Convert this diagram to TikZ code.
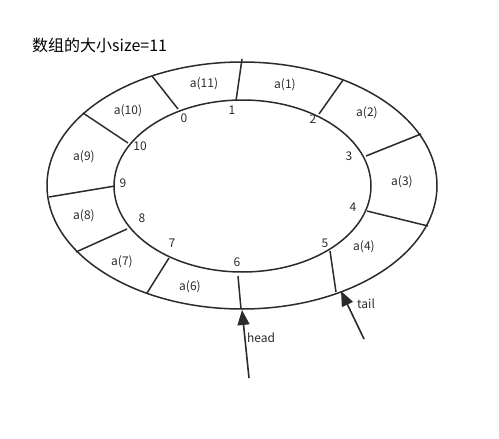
\documentclass[tikz,border=0pt]{standalone}
\usepackage{fontspec}
\setmainfont{Noto Sans CJK SC}
\usetikzlibrary{arrows.meta}
\definecolor{ink}{HTML}{2B2B2B}
\begin{document}
\begin{tikzpicture}[x=1pt,y=-1pt,
  ring/.style={draw=ink,line width=1.5pt},
  divider/.style={draw=ink,line width=1.5pt},
  idx/.style={font=\fontsize{12}{12}\selectfont,text=ink,inner sep=0pt},
  cell/.style={font=\fontsize{12}{12}\selectfont,text=ink,inner sep=0pt},
  pointer/.style={draw=ink,line width=1.6pt,-{Triangle[length=15pt,width=12pt]}},
  lbl/.style={font=\fontsize{12}{12}\selectfont,text=ink,inner sep=0pt,anchor=west}]
\useasboundingbox (0,0) rectangle (499,439);
\node[anchor=west,inner sep=0pt,font=\fontsize{16}{16}\selectfont] (title) at (32,45) {数组的大小size=11};
\draw[ring] (242,185.5) ellipse [x radius=195, y radius=123.5];
\draw[ring] (242.5,186) ellipse [x radius=128.5, y radius=86];
% divider end points
\coordinate (i0) at (178,109); \coordinate (o0) at (152,76);
\coordinate (i1) at (236,101); \coordinate (o1) at (242,59);
\coordinate (i2) at (319,114); \coordinate (o2) at (343,80);
\coordinate (i3) at (366,156); \coordinate (o3) at (421,134);
\coordinate (i4) at (367,211); \coordinate (o4) at (428,226);
\coordinate (i5) at (330,251); \coordinate (o5) at (336,292);
\coordinate (i6) at (238,276); \coordinate (o6) at (241,309);
\coordinate (i7) at (169,258); \coordinate (o7) at (147,293);
\coordinate (i8) at (127,229); \coordinate (o8) at (76,252);
\coordinate (i9) at (115,186); \coordinate (o9) at (49,197);
\coordinate (i10) at (128,143); \coordinate (o10) at (83,113);
\foreach \k in {0,...,10} {\draw[divider] (i\k) -- (o\k);}
% indices
\node[idx] (n0) at (184,118) {0};
\node[idx] (n1) at (232,110) {1};
\node[idx] (n2) at (313,119) {2};
\node[idx] (n3) at (349,156) {3};
\node[idx] (n4) at (353,207) {4};
\node[idx] (n5) at (325,243) {5};
\node[idx] (n6) at (237,262) {6};
\node[idx] (n7) at (172,243) {7};
\node[idx] (n8) at (142,218) {8};
\node[idx] (n9) at (123,183) {9};
\node[idx] (n10) at (140,146) {10};
% cells
\node[cell] (c11) at (204,84) {a(11)};
\node[cell] (c1) at (285,85) {a(1)};
\node[cell] (c2) at (367,113) {a(2)};
\node[cell] (c3) at (402,182) {a(3)};
\node[cell] (c4) at (364,247) {a(4)};
\node[cell] (c6) at (190,287) {a(6)};
\node[cell] (c7) at (122,262) {a(7)};
\node[cell] (c8) at (84,216) {a(8)};
\node[cell] (c9) at (84,157) {a(9)};
\node[cell] (c10) at (128,111) {a(10)};
% pointers
\coordinate (hs) at (249,378); \coordinate (ht) at (242,310);
\coordinate (ts) at (364,339); \coordinate (tt) at (341,291);
\draw[pointer] (hs) -- (ht);
\draw[pointer] (ts) -- (tt);
\node[lbl] (head) at (247,338) {head};
\node[lbl] (tail) at (357,304) {tail};
\end{tikzpicture}
\end{document}
